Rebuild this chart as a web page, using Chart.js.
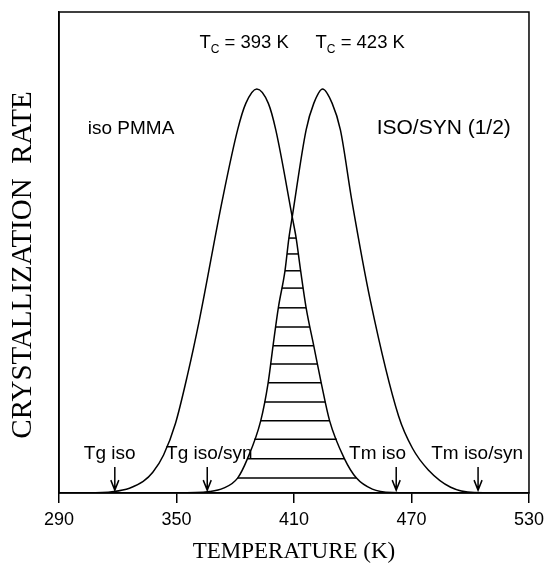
<!DOCTYPE html>
<html>
<head>
<meta charset="utf-8">
<script src="https://cdn.jsdelivr.net/npm/chart.js@4"></script>
<style>
  html, body { margin: 0; padding: 0; background: #fff; }
  #wrap { width: 550px; height: 566px; position: relative; }
</style>
</head>
<body>
<div id="wrap"><canvas id="c"></canvas></div>
<script>
// ---- Data ----
const xTicks = [290, 350, 410, 470, 530];

// iso PMMA curve (Tc = 393 K)
const isoT = [290, 305, 318, 326, 333, 337.9, 343.4, 349.5, 355.6, 361.7, 373.4, 381.2, 385.4, 391.0, 396.9, 400.7, 409.1, 411.1, 413.4, 416.2, 420.1, 423.9, 428.2, 435.8, 441.9, 450, 460, 480, 530];
const isoV = [0, 0, 0.3, 1.0, 2.4, 4.3, 7.9, 14.5, 24.5, 36.0, 60.9, 75.5, 81.0, 84.0, 81.0, 75.5, 57.4, 53.0, 46.2, 38.5, 30.6, 22.9, 15.0, 7.1, 3.1, 0.8, 0.1, 0, 0];

// ISO/SYN (1/2) curve (Tc = 423 K)
const synT = [290, 350, 366.8, 374, 381.2, 386.2, 393.0, 396.8, 399.3, 402.0, 405.4, 407.4, 409.1, 416.2, 420.1, 424.6, 429.5, 433.7, 439.5, 449.0, 463.4, 470.5, 478.6, 490, 502, 530];
const synV = [0, 0, 0.3, 1.0, 3.1, 7.1, 15.0, 22.9, 30.6, 38.5, 46.2, 53.0, 57.4, 75.5, 81.0, 84.0, 81.0, 75.5, 60.9, 40.0, 16.0, 9.3, 4.8, 1.2, 0.1, 0];

// hatch levels (horizontal lines in the overlap region)
const hatchLevels = [53.0, 49.7, 46.2, 42.6, 38.5, 34.5, 30.6, 26.8, 22.9, 18.9, 15.0, 11.2, 7.1, 3.1];

// text annotations
const labelTexts = ['iso PMMA', 'ISO/SYN (1/2)', 'Tg iso', 'Tg iso/syn', 'Tm iso', 'Tm iso/syn'];
const arrowTemps = [318.5, 365.7, 462.2, 504];
const tcValues = ['393', '423'];
const xTitle = 'TEMPERATURE (K)';
const yTitle = 'CRYSTALLIZATION  RATE';

// ---- helpers ----
function pts(T, V) { return T.map((t, i) => ({ x: t, y: V[i] })); }
function peakIndex(V) { let m = 0; V.forEach((v, i) => { if (v > V[m]) m = i; }); return m; }
function crossing(T, V, level, from, to) {
  const step = from < to ? 1 : -1;
  for (let i = from; i !== to; i += step) {
    const a = V[i], b = V[i + step];
    if ((a - level) * (b - level) <= 0 && a !== b) {
      return T[i] + (level - a) / (b - a) * (T[i + step] - T[i]);
    }
  }
  return null;
}

const pIso = peakIndex(isoV), pSyn = peakIndex(synV);
const hatchSets = hatchLevels.map(lv => {
  const xl = crossing(synT, synV, lv, pSyn, 0);
  const xr = crossing(isoT, isoV, lv, pIso, isoT.length - 1);
  return {
    data: [{ x: xl, y: lv }, { x: xr, y: lv }],
    borderColor: '#000', borderWidth: 1.5, pointRadius: 0, tension: 0, fill: false
  };
});

const SANS = '"Liberation Sans", Arial, sans-serif';
const SERIF = '"Liberation Serif", "Times New Roman", serif';

const labelPos = [
  { t: 304.7, v: 74.6, align: 'left', size: 19 },
  { t: 452.2, v: 74.6, align: 'left', size: 21 },
  { t: 315.9, v: 7.15, align: 'center', size: 19 },
  { t: 366.8, v: 7.15, align: 'center', size: 19 },
  { t: 452.7, v: 7.15, align: 'center', size: 19 },
  { t: 503.5, v: 7.15, align: 'center', size: 19 }
];
const tcPos = [{ t: 361.7, v: 92.45 }, { t: 421.0, v: 92.45 }];

const annot = {
  id: 'annot',
  afterDraw(chart) {
    const { ctx, chartArea: a, scales: { x, y } } = chart;
    ctx.save();
    ctx.strokeStyle = '#000';
    ctx.lineWidth = 1.5;
    ctx.strokeRect(a.left, a.top, a.right - a.left, a.bottom - a.top);

    ctx.fillStyle = '#000';
    ctx.textBaseline = 'alphabetic';
    labelTexts.forEach((txt, i) => {
      const p = labelPos[i];
      ctx.font = p.size + 'px ' + SANS;
      ctx.textAlign = p.align;
      ctx.fillText(txt, x.getPixelForValue(p.t), y.getPixelForValue(p.v));
    });

    tcValues.forEach((val, i) => {
      const p = tcPos[i];
      let px = x.getPixelForValue(p.t);
      const py = y.getPixelForValue(p.v);
      ctx.textAlign = 'left';
      ctx.font = '18.5px ' + SANS;
      ctx.fillText('T', px, py);
      px += ctx.measureText('T').width;
      ctx.font = '12px ' + SANS;
      ctx.fillText('C', px, py + 5);
      px += ctx.measureText('C').width;
      ctx.font = '18.5px ' + SANS;
      ctx.fillText(' = ' + val + ' K', px, py);
    });

    ctx.lineWidth = 1.5;
    arrowTemps.forEach(t => {
      const ax = x.getPixelForValue(t);
      const y0 = y.getPixelForValue(5.4);
      const y1 = y.getPixelForValue(0.6);
      ctx.beginPath();
      ctx.moveTo(ax, y0); ctx.lineTo(ax, y1);
      ctx.moveTo(ax - 4, y1 - 10); ctx.lineTo(ax, y1); ctx.lineTo(ax + 4, y1 - 10);
      ctx.stroke();
    });

    // y axis title
    ctx.save();
    ctx.translate(23, 265);
    ctx.rotate(-Math.PI / 2);
    ctx.font = '29px ' + SERIF;
    ctx.textAlign = 'center';
    ctx.textBaseline = 'middle';
    ctx.fillText(yTitle, 0, 0);
    ctx.restore();

    ctx.restore();
  }
};

new Chart(document.getElementById('c'), {
  type: 'line',
  data: {
    datasets: [
      { label: 'iso PMMA', data: pts(isoT, isoV), borderColor: '#000', borderWidth: 1.5, pointRadius: 0, cubicInterpolationMode: 'monotone', fill: false },
      { label: 'ISO/SYN (1/2)', data: pts(synT, synV), borderColor: '#000', borderWidth: 1.5, pointRadius: 0, cubicInterpolationMode: 'monotone', fill: false },
      ...hatchSets
    ]
  },
  options: {
    responsive: true,
    maintainAspectRatio: false,
    animation: false,
    layout: { padding: { top: 12, right: 19, left: 0, bottom: 0 } },
    plugins: { legend: { display: false }, tooltip: { enabled: false } },
    scales: {
      x: {
        type: 'linear', min: 290, max: 530,
        afterBuildTicks(s) { s.ticks = xTicks.map(v => ({ value: v })); },
        afterFit(s) { s.height = 73; },
        grid: { display: true, drawOnChartArea: false, drawTicks: true, tickLength: 10, color: '#000', lineWidth: 1.5 },
        border: { display: true, color: '#000', width: 1.5 },
        ticks: { color: '#000', font: { family: SANS, size: 18 }, padding: 6, maxRotation: 0 },
        title: { display: true, text: xTitle, color: '#000', font: { family: SERIF, size: 23 }, padding: { top: 0, bottom: 0 } }
      },
      y: {
        type: 'linear', min: 0, max: 100,
        afterFit(s) { s.width = 59; },
        grid: { display: false },
        border: { display: true, color: '#000', width: 1.5 },
        ticks: { display: false },
        title: { display: false, text: yTitle }
      }
    }
  },
  plugins: [annot]
});
</script>
</body>
</html>
